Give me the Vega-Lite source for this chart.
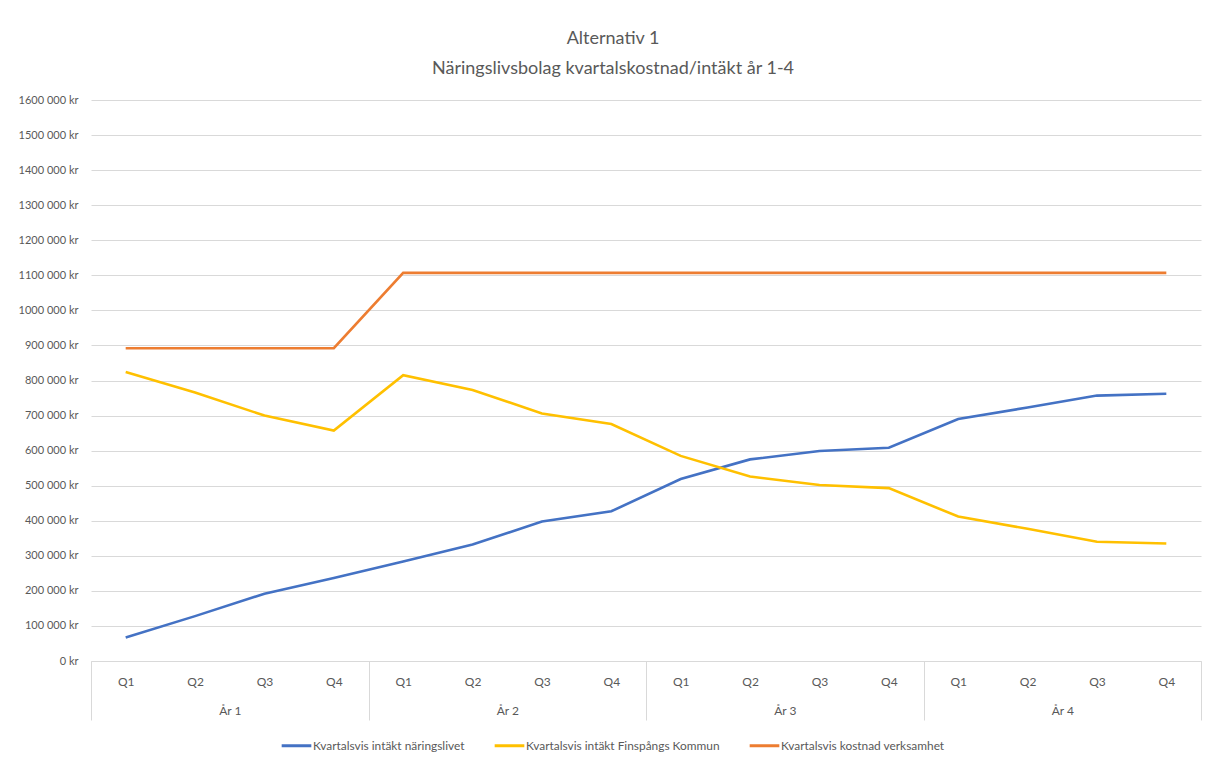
{
  "$schema": "https://vega.github.io/schema/vega-lite/v6.json",
  "width": 1110,
  "height": 561,
  "autosize": {"type": "none"},
  "padding": {"left": 91, "top": 100, "right": 5, "bottom": 101},
  "background": "white",
  "title": {
    "text": ["Alternativ 1", "Näringslivsbolag kvartalskostnad/intäkt år 1-4"],
    "anchor": "middle",
    "frame": "group",
    "dx": -33,
    "offset": 16,
    "font": "Lato",
    "fontSize": 18,
    "fontWeight": "normal",
    "color": "#595959",
    "lineHeight": 30
  },
  "data": {
    "values": [
      {"key": "1-Q1", "year": "År 1", "series": "Kvartalsvis intäkt näringslivet", "value": 67000},
      {"key": "1-Q2", "year": "År 1", "series": "Kvartalsvis intäkt näringslivet", "value": 128000},
      {"key": "1-Q3", "year": "År 1", "series": "Kvartalsvis intäkt näringslivet", "value": 192000},
      {"key": "1-Q4", "year": "År 1", "series": "Kvartalsvis intäkt näringslivet", "value": 237000},
      {"key": "2-Q1", "year": "År 2", "series": "Kvartalsvis intäkt näringslivet", "value": 284000},
      {"key": "2-Q2", "year": "År 2", "series": "Kvartalsvis intäkt näringslivet", "value": 332000},
      {"key": "2-Q3", "year": "År 2", "series": "Kvartalsvis intäkt näringslivet", "value": 398000},
      {"key": "2-Q4", "year": "År 2", "series": "Kvartalsvis intäkt näringslivet", "value": 427000},
      {"key": "3-Q1", "year": "År 3", "series": "Kvartalsvis intäkt näringslivet", "value": 519000},
      {"key": "3-Q2", "year": "År 3", "series": "Kvartalsvis intäkt näringslivet", "value": 575000},
      {"key": "3-Q3", "year": "År 3", "series": "Kvartalsvis intäkt näringslivet", "value": 599000},
      {"key": "3-Q4", "year": "År 3", "series": "Kvartalsvis intäkt näringslivet", "value": 608000},
      {"key": "4-Q1", "year": "År 4", "series": "Kvartalsvis intäkt näringslivet", "value": 690000},
      {"key": "4-Q2", "year": "År 4", "series": "Kvartalsvis intäkt näringslivet", "value": 723000},
      {"key": "4-Q3", "year": "År 4", "series": "Kvartalsvis intäkt näringslivet", "value": 757000},
      {"key": "4-Q4", "year": "År 4", "series": "Kvartalsvis intäkt näringslivet", "value": 762000},
      {"key": "1-Q1", "year": "År 1", "series": "Kvartalsvis intäkt Finspångs Kommun", "value": 824000},
      {"key": "1-Q2", "year": "År 1", "series": "Kvartalsvis intäkt Finspångs Kommun", "value": 766000},
      {"key": "1-Q3", "year": "År 1", "series": "Kvartalsvis intäkt Finspångs Kommun", "value": 700000},
      {"key": "1-Q4", "year": "År 1", "series": "Kvartalsvis intäkt Finspångs Kommun", "value": 657000},
      {"key": "2-Q1", "year": "År 2", "series": "Kvartalsvis intäkt Finspångs Kommun", "value": 815000},
      {"key": "2-Q2", "year": "År 2", "series": "Kvartalsvis intäkt Finspångs Kommun", "value": 773000},
      {"key": "2-Q3", "year": "År 2", "series": "Kvartalsvis intäkt Finspångs Kommun", "value": 706000},
      {"key": "2-Q4", "year": "År 2", "series": "Kvartalsvis intäkt Finspångs Kommun", "value": 676000},
      {"key": "3-Q1", "year": "År 3", "series": "Kvartalsvis intäkt Finspångs Kommun", "value": 585000},
      {"key": "3-Q2", "year": "År 3", "series": "Kvartalsvis intäkt Finspångs Kommun", "value": 526000},
      {"key": "3-Q3", "year": "År 3", "series": "Kvartalsvis intäkt Finspångs Kommun", "value": 502000},
      {"key": "3-Q4", "year": "År 3", "series": "Kvartalsvis intäkt Finspångs Kommun", "value": 493000},
      {"key": "4-Q1", "year": "År 4", "series": "Kvartalsvis intäkt Finspångs Kommun", "value": 412000},
      {"key": "4-Q2", "year": "År 4", "series": "Kvartalsvis intäkt Finspångs Kommun", "value": 377000},
      {"key": "4-Q3", "year": "År 4", "series": "Kvartalsvis intäkt Finspångs Kommun", "value": 340000},
      {"key": "4-Q4", "year": "År 4", "series": "Kvartalsvis intäkt Finspångs Kommun", "value": 335000},
      {"key": "1-Q1", "year": "År 1", "series": "Kvartalsvis kostnad verksamhet", "value": 892000},
      {"key": "1-Q2", "year": "År 1", "series": "Kvartalsvis kostnad verksamhet", "value": 892000},
      {"key": "1-Q3", "year": "År 1", "series": "Kvartalsvis kostnad verksamhet", "value": 892000},
      {"key": "1-Q4", "year": "År 1", "series": "Kvartalsvis kostnad verksamhet", "value": 892000},
      {"key": "2-Q1", "year": "År 2", "series": "Kvartalsvis kostnad verksamhet", "value": 1107000},
      {"key": "2-Q2", "year": "År 2", "series": "Kvartalsvis kostnad verksamhet", "value": 1107000},
      {"key": "2-Q3", "year": "År 2", "series": "Kvartalsvis kostnad verksamhet", "value": 1107000},
      {"key": "2-Q4", "year": "År 2", "series": "Kvartalsvis kostnad verksamhet", "value": 1107000},
      {"key": "3-Q1", "year": "År 3", "series": "Kvartalsvis kostnad verksamhet", "value": 1107000},
      {"key": "3-Q2", "year": "År 3", "series": "Kvartalsvis kostnad verksamhet", "value": 1107000},
      {"key": "3-Q3", "year": "År 3", "series": "Kvartalsvis kostnad verksamhet", "value": 1107000},
      {"key": "3-Q4", "year": "År 3", "series": "Kvartalsvis kostnad verksamhet", "value": 1107000},
      {"key": "4-Q1", "year": "År 4", "series": "Kvartalsvis kostnad verksamhet", "value": 1107000},
      {"key": "4-Q2", "year": "År 4", "series": "Kvartalsvis kostnad verksamhet", "value": 1107000},
      {"key": "4-Q3", "year": "År 4", "series": "Kvartalsvis kostnad verksamhet", "value": 1107000},
      {"key": "4-Q4", "year": "År 4", "series": "Kvartalsvis kostnad verksamhet", "value": 1107000}
    ]
  },
  "encoding": {
    "y": {
      "field": "value",
      "type": "quantitative",
      "scale": {"domain": [0, 1600000], "nice": false, "zero": true},
      "axis": {
        "title": null,
        "values": [0, 100000, 200000, 300000, 400000, 500000, 600000, 700000, 800000, 900000, 1000000, 1100000, 1200000, 1300000, 1400000, 1500000, 1600000],
        "tickCount": 40,
        "labelOverlap": false,
        "labelExpr": "datum.value == 0 ? '0 kr' : floor(datum.value / 1000) + ' 000 kr'",
        "domain": false,
        "ticks": false,
        "grid": true,
        "gridColor": "#d9d9d9",
        "gridWidth": 1,
        "labelPadding": 13,
        "labelFont": "Lato",
        "labelFontSize": 11,
        "labelColor": "#595959"
      }
    }
  },
  "layer": [
    {
      "mark": {"type": "line", "strokeWidth": 2.6},
      "encoding": {
        "x": {
          "field": "key",
          "type": "ordinal",
          "sort": null,
          "scale": {"type": "point", "padding": 0.5},
          "axis": {
            "orient": "bottom",
            "title": null,
            "labelExpr": "split(datum.value, '-')[1]",
            "labelAngle": 0,
            "ticks": false,
            "domain": true,
            "domainColor": "#d9d9d9",
            "labelPadding": 15,
            "labelFont": "Lato",
            "labelFontSize": 12,
            "labelColor": "#595959"
          }
        },
        "color": {
          "field": "series",
          "type": "nominal",
          "scale": {
            "domain": ["Kvartalsvis intäkt näringslivet", "Kvartalsvis intäkt Finspångs Kommun", "Kvartalsvis kostnad verksamhet"],
            "range": ["#4472C4", "#FFC000", "#ED7D31"]
          },
          "legend": {
            "title": null,
            "orient": "none",
            "direction": "horizontal",
            "legendX": 189,
            "legendY": 629,
            "symbolType": "stroke",
            "symbolStrokeWidth": 3,
            "symbolSize": 880,
            "labelFont": "Lato",
            "labelFontSize": 11.9,
            "labelLimit": 400,
            "labelColor": "#595959",
            "labelOffset": 0,
            "columnPadding": 23
          }
        }
      }
    },
    {
      "mark": {"type": "point", "opacity": 0},
      "encoding": {
        "x": {
          "field": "year",
          "type": "ordinal",
          "sort": null,
          "scale": {"type": "band", "paddingInner": 0, "paddingOuter": 0},
          "axis": {
            "orient": "bottom",
            "title": null,
            "labelAngle": 0,
            "domain": false,
            "ticks": true,
            "tickBand": "extent",
            "tickSize": 59,
            "tickColor": "#d9d9d9",
            "tickWidth": 1,
            "labelPadding": -15,
            "labelFont": "Lato",
            "labelFontSize": 12,
            "labelColor": "#595959"
          }
        }
      }
    }
  ],
  "resolve": {"scale": {"x": "independent"}, "axis": {"x": "independent"}},
  "config": {
    "view": {"stroke": null}
  }
}
